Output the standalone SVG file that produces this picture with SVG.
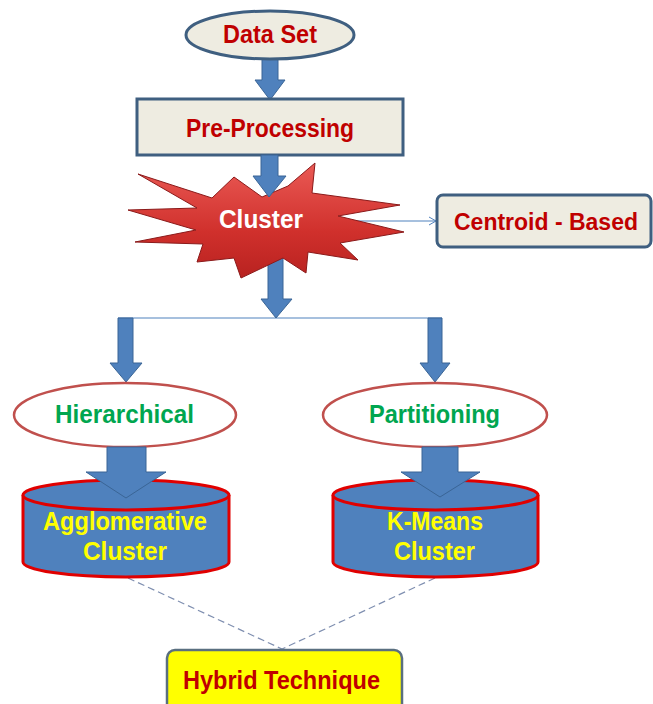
<svg xmlns="http://www.w3.org/2000/svg" width="653" height="704" viewBox="0 0 653 704">
<defs>
<linearGradient id="starGrad" x1="0" y1="0" x2="0" y2="1">
<stop offset="0" stop-color="#ea5a55"/>
<stop offset="0.6" stop-color="#d0302c"/>
<stop offset="1" stop-color="#b82220"/>
</linearGradient>
<marker id="openArrow" markerWidth="10" markerHeight="10" refX="8" refY="5" orient="auto" markerUnits="userSpaceOnUse">
<path d="M1 1 L8 5 L1 9" fill="none" stroke="#4f81bd" stroke-width="1"/>
</marker>
<style>
.t{font-family:"Liberation Sans",Arial,sans-serif;font-weight:bold;font-size:25px;text-anchor:middle}
.red{fill:#c00000}
.green{fill:#00a650}
.yellow{fill:#ffff00}
.white{fill:#ffffff}
.beige{fill:#eeece1;stroke:#3f5f80;stroke-width:3}
.arrow{fill:#4f81bd;stroke:#3a6596;stroke-width:1}
.oval{fill:#ffffff;stroke:#c0504d;stroke-width:2.5}
.cyl{fill:#4f81bd;stroke:#e00000;stroke-width:3}
.dash{stroke:#7f8fb0;stroke-width:1.2;stroke-dasharray:7 4;fill:none}
.thin{stroke:#4f81bd;stroke-width:1;fill:none}
</style>
</defs>
<rect width="653" height="704" fill="#ffffff"/>

<g id="connectors">
<line class="thin" x1="118" y1="318" x2="442" y2="318"/>
<line class="thin" x1="353" y1="221" x2="436" y2="221" marker-end="url(#openArrow)"/>
<line class="dash" x1="128" y1="578" x2="282" y2="649"/>
<line class="dash" x1="435" y1="578" x2="282" y2="649"/>
<path class="arrow" d="M262 58 H278 V80 H285 L270 100 L255 80 H262 Z"/>
<path class="arrow" d="M118 318 H133 V363 H142 L126 382 L110 363 H118 Z"/>
<path class="arrow" d="M428 318 H442 V363 H450 L435 382 L420 363 H428 Z"/>
</g>

<g id="dataset">
<ellipse class="beige" cx="270" cy="35" rx="84" ry="24"/>
<text class="t red" x="270" y="43" textLength="94" lengthAdjust="spacingAndGlyphs">Data Set</text>
</g>

<g id="preprocessing">
<rect class="beige" x="137" y="99" width="266" height="56"/>
<text class="t red" x="270" y="137" textLength="168" lengthAdjust="spacingAndGlyphs">Pre-Processing</text>
</g>

<g id="cluster">
<path d="M268 253 H283 V299 H292 L276 318 L261 299 H268 Z" fill="#4f81bd" stroke="#3a6596" stroke-width="1"/>
<polygon points="138,174 212,198 234,177 262,197 288,186 315,163 312,193 400,205 338,216 404,232 340,243 358,260 308,252 306,273 283,258 241,278 234,258 197,262 203,244 135,242 196,230 128,210 197,208" fill="url(#starGrad)" stroke="#8b1a1a" stroke-width="1"/>
<path d="M261 155 H278 V176 H286 L269 197 L253 176 H261 Z" fill="#4f81bd" stroke="#3a6596" stroke-width="1"/>
<text class="t white" x="261" y="228" textLength="84" lengthAdjust="spacingAndGlyphs">Cluster</text>
</g>

<g id="centroid">
<rect class="beige" x="437" y="195" width="214" height="52" rx="6"/>
<text class="t red" x="546" y="230" style="font-size:23px">Centroid - Based</text>
</g>

<g id="hierarchical">
<ellipse class="oval" cx="125" cy="415" rx="111" ry="32"/>
<text class="t green" x="124.5" y="423" textLength="139" lengthAdjust="spacingAndGlyphs">Hierarchical</text>
</g>

<g id="partitioning">
<ellipse class="oval" cx="435" cy="415" rx="112" ry="32"/>
<text class="t green" x="434.5" y="423" textLength="131" lengthAdjust="spacingAndGlyphs">Partitioning</text>
</g>

<g id="agglomerative">
<path class="cyl" d="M23 495 V562 A103 15 0 0 0 229 562 V495"/>
<ellipse class="cyl" cx="126" cy="495" rx="103" ry="15"/>
<path class="arrow" d="M107 447 H146 V472 H166 L126 498 L86 472 H107 Z"/>
<text class="t yellow" x="125" y="530" textLength="164" lengthAdjust="spacingAndGlyphs">Agglomerative</text>
<text class="t yellow" x="125" y="560" textLength="84" lengthAdjust="spacingAndGlyphs">Cluster</text>
</g>

<g id="kmeans">
<path class="cyl" d="M333 495 V562 A102.5 15 0 0 0 538 562 V495"/>
<ellipse class="cyl" cx="435.5" cy="495" rx="102.5" ry="15"/>
<path class="arrow" d="M422 447 H458 V472 H480 L440 497 L401 472 H422 Z"/>
<text class="t yellow" x="435" y="530" textLength="96" lengthAdjust="spacingAndGlyphs">K-Means</text>
<text class="t yellow" x="434.5" y="560" textLength="81" lengthAdjust="spacingAndGlyphs">Cluster</text>
</g>

<g id="hybrid">
<rect x="167" y="650" width="235" height="70" rx="8" fill="#ffff00" stroke="#5a6f80" stroke-width="2.5"/>
<text class="t red" x="281.5" y="689" textLength="197" lengthAdjust="spacingAndGlyphs">Hybrid Technique</text>
</g>
</svg>
